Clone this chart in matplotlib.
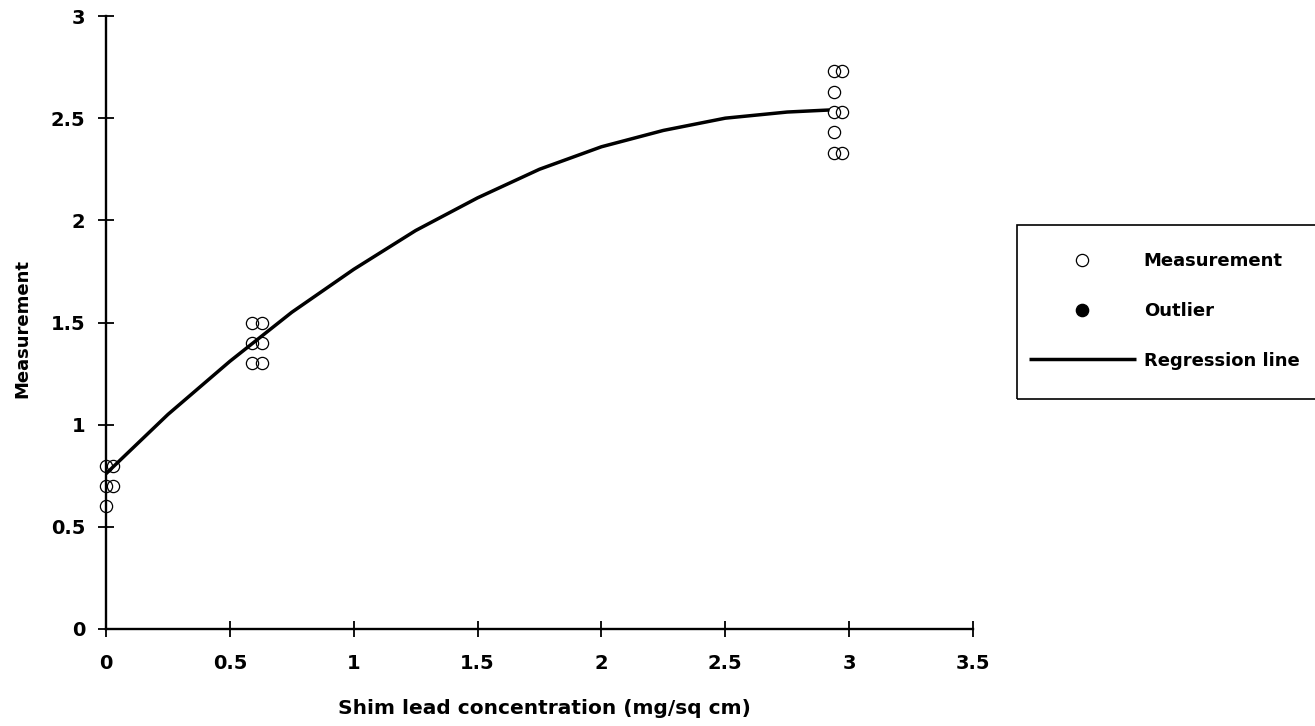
import matplotlib

matplotlib.use("Agg")
import matplotlib.pyplot as plt
from matplotlib.patches import Rectangle

meas_x = [0.0, 0.0, 0.0, 0.03, 0.03,
          0.59, 0.59, 0.59, 0.63, 0.63, 0.63,
          2.94, 2.94, 2.94, 2.94, 2.94, 2.97, 2.97, 2.97]
meas_y = [0.80, 0.70, 0.60, 0.80, 0.70,
          1.50, 1.40, 1.30, 1.50, 1.40, 1.30,
          2.73, 2.63, 2.53, 2.43, 2.33, 2.73, 2.53, 2.33]

# no outliers are plotted, only listed in the legend
outlier_x: list[float] = []
outlier_y: list[float] = []

# regression curve, sampled along the drawn line
reg_x = [0.0, 0.25, 0.5, 0.75, 1.0, 1.25, 1.5, 1.75, 2.0, 2.25, 2.5, 2.75, 2.92]
reg_y = [0.76, 1.05, 1.31, 1.55, 1.76, 1.95, 2.11, 2.25, 2.36, 2.44, 2.50, 2.53, 2.54]

x_ticks = [0, 0.5, 1, 1.5, 2, 2.5, 3, 3.5]
x_tick_labels = ["0", "0.5", "1", "1.5", "2", "2.5", "3", "3.5"]
y_ticks = [0, 0.5, 1, 1.5, 2, 2.5, 3]
y_tick_labels = ["0", "0.5", "1", "1.5", "2", "2.5", "3"]

plt.rcParams["font.family"] = ["DejaVu Sans"]
plt.rcParams["font.weight"] = "bold"

W, H = 1315, 726
fig = plt.figure(figsize=(W / 100, H / 100), dpi=100)
ax = fig.add_axes([106 / W, 1 - 629 / H, (973 - 106) / W, (629 - 16) / H])

ax.plot(reg_x, reg_y, color="black", linewidth=2.5, solid_capstyle="butt",
        label="Regression line", zorder=2)
ax.plot(meas_x, meas_y, linestyle="none", marker="o", markersize=8.8,
        markerfacecolor="none", markeredgecolor="black", markeredgewidth=0.9,
        label="Measurement", clip_on=False, zorder=3)
ax.plot(outlier_x, outlier_y, linestyle="none", marker="o", markersize=8.8,
        color="black", label="Outlier")

ax.set_xlim(0, 3.5)
ax.set_ylim(0, 3)
ax.set_xticks(x_ticks)
ax.set_xticklabels(x_tick_labels)
ax.set_yticks(y_ticks)
ax.set_yticklabels(y_tick_labels)

for side in ("top", "right"):
    ax.spines[side].set_visible(False)
for side in ("left", "bottom"):
    ax.spines[side].set_linewidth(1.7)

ax.tick_params(axis="both", direction="inout", length=12, width=1.3,
               labelsize=14, colors="black")
ax.tick_params(axis="x", pad=12)
ax.tick_params(axis="y", pad=9)
for lbl in ax.get_xticklabels() + ax.get_yticklabels():
    lbl.set_fontweight("bold")

fig.text(544 / W, 1 - 708 / H, "Shim lead concentration (mg/sq cm)",
         ha="center", va="center", fontsize=14.5, fontweight="bold")
fig.text(22 / W, 1 - 328 / H, "Measurement", rotation=90,
         ha="center", va="center", fontsize=13, fontweight="bold")

# legend box runs off the right edge of the page
fig.patches.append(Rectangle((1017 / W, 1 - 399 / H), (1450 - 1017) / W,
                             (399 - 225) / H, transform=fig.transFigure,
                             fill=False, edgecolor="black", linewidth=1.2))

handles, labels = ax.get_legend_handles_labels()
order = [1, 2, 0]
leg = ax.legend([handles[i] for i in order], [labels[i] for i in order],
                loc="center left", bbox_to_anchor=(1029 / W, 1 - 311 / H),
                bbox_transform=fig.transFigure, frameon=False, fontsize=13,
                handlelength=5.9, handletextpad=0.45, labelspacing=1.75,
                borderpad=0, borderaxespad=0)
for txt in leg.get_texts():
    txt.set_fontweight("bold")

fig.savefig("out.png", dpi=100)
